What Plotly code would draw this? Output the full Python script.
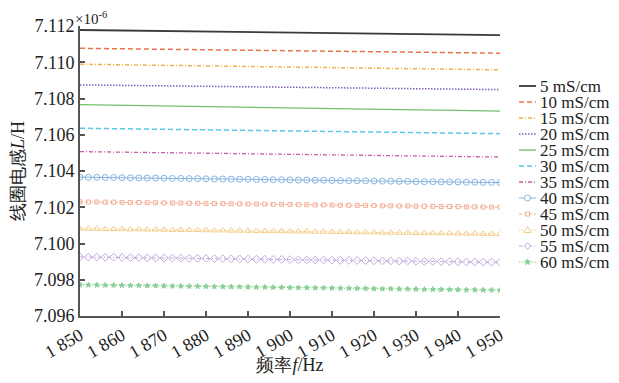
import math
import plotly.graph_objects as go

# ---- data (inductance in units of 1e-6 H) ----
freq_coarse = [1850, 1860, 1870, 1880, 1890, 1900, 1910, 1920, 1930, 1940, 1950]
freq_fine = [1850, 1852, 1854, 1856, 1858, 1860, 1862, 1864, 1866, 1868, 1870,
             1872, 1874, 1876, 1878, 1880, 1882, 1884, 1886, 1888, 1890,
             1892, 1894, 1896, 1898, 1900, 1902, 1904, 1906, 1908, 1910,
             1912, 1914, 1916, 1918, 1920, 1922, 1924, 1926, 1928, 1930,
             1932, 1934, 1936, 1938, 1940, 1942, 1944, 1946, 1948, 1950]

L_5 = [7.11178, 7.11175, 7.11172, 7.11170, 7.11167, 7.11164, 7.11161, 7.11158, 7.11156, 7.11153, 7.11150]
L_10 = [7.11077, 7.11074, 7.11072, 7.11069, 7.11066, 7.11064, 7.11061, 7.11058, 7.11056, 7.11053, 7.11050]
L_15 = [7.10989, 7.10986, 7.10983, 7.10980, 7.10977, 7.10974, 7.10970, 7.10967, 7.10964, 7.10961, 7.10958]
L_20 = [7.10875, 7.10872, 7.10870, 7.10867, 7.10865, 7.10862, 7.10859, 7.10857, 7.10854, 7.10852, 7.10849]
L_25 = [7.10766, 7.10762, 7.10759, 7.10755, 7.10752, 7.10748, 7.10744, 7.10741, 7.10737, 7.10734, 7.10730]
L_30 = [7.10636, 7.10633, 7.10630, 7.10627, 7.10624, 7.10621, 7.10618, 7.10615, 7.10612, 7.10609, 7.10606]
L_35 = [7.10507, 7.10504, 7.10501, 7.10498, 7.10495, 7.10492, 7.10489, 7.10486, 7.10483, 7.10480, 7.10477]

L_40 = [7.10366, 7.10365, 7.10365, 7.10364, 7.10364, 7.10363, 7.10362, 7.10362, 7.10361, 7.10361, 7.10360,
        7.10359, 7.10359, 7.10358, 7.10358, 7.10357, 7.10356, 7.10356, 7.10355, 7.10355, 7.10354,
        7.10353, 7.10353, 7.10352, 7.10352, 7.10351, 7.10350, 7.10350, 7.10349, 7.10349, 7.10348,
        7.10347, 7.10347, 7.10346, 7.10346, 7.10345, 7.10344, 7.10344, 7.10343, 7.10343, 7.10342,
        7.10341, 7.10341, 7.10340, 7.10340, 7.10339, 7.10338, 7.10338, 7.10337, 7.10337, 7.10336]
L_45 = [7.10230, 7.10229, 7.10229, 7.10228, 7.10228, 7.10227, 7.10226, 7.10226, 7.10225, 7.10225, 7.10224,
        7.10223, 7.10223, 7.10222, 7.10222, 7.10221, 7.10220, 7.10220, 7.10219, 7.10219, 7.10218,
        7.10217, 7.10217, 7.10216, 7.10216, 7.10215, 7.10214, 7.10214, 7.10213, 7.10213, 7.10212,
        7.10211, 7.10211, 7.10210, 7.10210, 7.10209, 7.10208, 7.10208, 7.10207, 7.10207, 7.10206,
        7.10205, 7.10205, 7.10204, 7.10204, 7.10203, 7.10202, 7.10202, 7.10201, 7.10201, 7.10200]
L_50 = [7.10082, 7.10081, 7.10081, 7.10080, 7.10080, 7.10079, 7.10078, 7.10078, 7.10077, 7.10077, 7.10076,
        7.10075, 7.10075, 7.10074, 7.10074, 7.10073, 7.10072, 7.10072, 7.10071, 7.10071, 7.10070,
        7.10069, 7.10069, 7.10068, 7.10068, 7.10067, 7.10066, 7.10066, 7.10065, 7.10065, 7.10064,
        7.10063, 7.10063, 7.10062, 7.10062, 7.10061, 7.10060, 7.10060, 7.10059, 7.10059, 7.10058,
        7.10057, 7.10057, 7.10056, 7.10056, 7.10055, 7.10054, 7.10054, 7.10053, 7.10053, 7.10052]
L_55 = [7.09926, 7.09925, 7.09925, 7.09924, 7.09924, 7.09923, 7.09922, 7.09922, 7.09921, 7.09921, 7.09920,
        7.09919, 7.09919, 7.09918, 7.09918, 7.09917, 7.09916, 7.09916, 7.09915, 7.09915, 7.09914,
        7.09913, 7.09913, 7.09912, 7.09912, 7.09911, 7.09910, 7.09910, 7.09909, 7.09909, 7.09908,
        7.09907, 7.09907, 7.09906, 7.09906, 7.09905, 7.09904, 7.09904, 7.09903, 7.09903, 7.09902,
        7.09901, 7.09901, 7.09900, 7.09900, 7.09899, 7.09898, 7.09898, 7.09897, 7.09897, 7.09896]
L_60 = [7.09772, 7.09771, 7.09771, 7.09770, 7.09770, 7.09769, 7.09768, 7.09768, 7.09767, 7.09767, 7.09766,
        7.09765, 7.09765, 7.09764, 7.09764, 7.09763, 7.09762, 7.09762, 7.09761, 7.09761, 7.09760,
        7.09759, 7.09759, 7.09758, 7.09758, 7.09757, 7.09756, 7.09756, 7.09755, 7.09755, 7.09754,
        7.09753, 7.09753, 7.09752, 7.09752, 7.09751, 7.09750, 7.09750, 7.09749, 7.09749, 7.09748,
        7.09747, 7.09747, 7.09746, 7.09746, 7.09745, 7.09744, 7.09744, 7.09743, 7.09743, 7.09742]

series_names = ["5 mS/cm", "10 mS/cm", "15 mS/cm", "20 mS/cm", "25 mS/cm", "30 mS/cm",
                "35 mS/cm", "40 mS/cm", "45 mS/cm", "50 mS/cm", "55 mS/cm", "60 mS/cm"]

x_tickvals = [1850, 1860, 1870, 1880, 1890, 1900, 1910, 1920, 1930, 1940, 1950]
x_ticktext = ["1 850", "1 860", "1 870", "1 880", "1 890", "1 900",
              "1 910", "1 920", "1 930", "1 940", "1 950"]
y_tickvals = [7.096, 7.098, 7.100, 7.102, 7.104, 7.106, 7.108, 7.110, 7.112]

# ---- styles ----
line_series = [
    (L_5, "#3a3a3a", "solid", 1.8),
    (L_10, "#e8744c", "5px,3px", 1.5),
    (L_15, "#eeb24a", "4px,2px,1px,2px", 1.5),
    (L_20, "#7f5db8", "1.5px,1.5px", 1.5),
    (L_25, "#72bf6c", "solid", 1.3),
    (L_30, "#5cc6e8", "5px,3px", 1.5),
    (L_35, "#c85fa4", "4px,2px,1px,2px", 1.3),
]
marker_series = [
    (L_40, "#86b4e0", "solid", "circle-open", 6, "circle"),
    (L_45, "#f3ae94", "3px,2px", "square-open", 4, "square"),
    (L_50, "#f4cc86", "1.5px,1.5px", "triangle-up-open", 6, "triangle"),
    (L_55, "#c1aade", "4px,2px,1px,2px", "diamond-open", 6, "diamond"),
    (L_60, "#86d096", "1.5px,1.5px", "star", 4, "star"),
]

FONT = "Liberation Serif"
TXT = "#222222"

# The page body adds an 8px margin on every side; the figure is sized to fit
# inside it (no scrollbars) and hand-placed legend positions, given in window
# pixels, are shifted by that offset.
OFF = 8
W, H = 619 - 2 * OFF, 383 - 2 * OFF
ML, MT = 80 - OFF, 26 - OFF
MR = W - (500 - OFF)
MB = H - (316 - OFF)
PW, PH = W - ML - MR, H - MT - MB


def px2x(px):
    return (px - OFF - ML) / PW


def py2y(py):
    return (H - MB - (py - OFF)) / PH


fig = go.Figure()
shapes = []
annotations = []

LEG_X0, LEG_X1, LEG_TX = 519, 536, 540
LEG_Y0, LEG_DY = 86, 16


def legend_entry(i, col, dash, width, marker=None):
    yc = LEG_Y0 + LEG_DY * i
    shapes.append(dict(type="line", xref="paper", yref="paper",
                       x0=px2x(LEG_X0), x1=px2x(LEG_X1), y0=py2y(yc), y1=py2y(yc),
                       line=dict(color=col, width=width, dash=dash)))
    xm = (LEG_X0 + LEG_X1) / 2
    if marker == "circle":
        shapes.append(dict(type="circle", xref="paper", yref="paper",
                           x0=px2x(xm - 3), x1=px2x(xm + 3), y0=py2y(yc + 3), y1=py2y(yc - 3),
                           line=dict(color=col, width=1), fillcolor="white"))
    elif marker == "square":
        shapes.append(dict(type="rect", xref="paper", yref="paper",
                           x0=px2x(xm - 2), x1=px2x(xm + 2), y0=py2y(yc + 2), y1=py2y(yc - 2),
                           line=dict(color=col, width=1), fillcolor="white"))
    elif marker in ("triangle", "diamond", "star"):
        if marker == "triangle":
            pts = [(xm, yc - 3.5), (xm - 3.5, yc + 2.5), (xm + 3.5, yc + 2.5)]
        elif marker == "diamond":
            pts = [(xm, yc - 3.5), (xm + 3, yc), (xm, yc + 3.5), (xm - 3, yc)]
        else:
            pts = []
            for j in range(10):
                r = 3.0 if j % 2 == 0 else 1.3
                a = -math.pi / 2 + j * math.pi / 5
                pts.append((xm + r * math.cos(a), yc + r * math.sin(a)))
        path = "M " + " L ".join("%.5f,%.5f" % (px2x(p[0]), py2y(p[1])) for p in pts) + " Z"
        shapes.append(dict(type="path", xref="paper", yref="paper", path=path,
                           line=dict(color=col, width=1),
                           fillcolor=col if marker == "star" else "white"))
    annotations.append(dict(text=series_names[i], xref="paper", yref="paper",
                            x=px2x(LEG_TX), y=py2y(yc), xanchor="left", yanchor="middle",
                            height=16, borderpad=0, borderwidth=0,
                            showarrow=False, font=dict(size=17, family=FONT, color=TXT)))


k = 0
for vals, col, dash, w in line_series:
    fig.add_trace(go.Scatter(
        x=freq_coarse, y=vals, mode="lines", name=series_names[k],
        line=dict(color=col, dash=dash, width=w)))
    legend_entry(k, col, dash, w)
    k += 1
for vals, col, dash, sym, sz, lsym in marker_series:
    fig.add_trace(go.Scatter(
        x=freq_fine, y=vals, mode="lines+markers", name=series_names[k],
        line=dict(color=col, dash=dash, width=1),
        marker=dict(symbol=sym, size=sz, color=col, line=dict(color=col, width=1))))
    legend_entry(k, col, dash, 1, lsym)
    k += 1

annotations.append(dict(text="×10<sup>-6</sup>", xref="paper", yref="paper", x=0, y=1.0,
                        xanchor="left", yanchor="bottom", showarrow=False, yshift=-1, xshift=-5,
                        borderpad=0, borderwidth=0,
                        font=dict(size=15, family=FONT, color=TXT)))

axis_col = "#555555"
fig.update_layout(
    width=W, height=H,
    margin=dict(l=ML, r=MR, t=MT, b=MB, autoexpand=False),
    paper_bgcolor="white", plot_bgcolor="white",
    font=dict(family=FONT, size=18, color=TXT),
    showlegend=False,
    xaxis=dict(range=[1850, 1950], tickvals=x_tickvals, ticktext=x_ticktext, automargin=False,
               tickangle=-30, ticks="inside", ticklen=5, tickwidth=1.5, tickcolor=axis_col,
               showline=True, linecolor=axis_col, linewidth=2, showgrid=False, zeroline=False,
               tickfont=dict(size=18),
               title=dict(text="频率<i>f</i>/Hz", font=dict(size=18), standoff=4)),
    yaxis=dict(range=[7.096, 7.112], tickvals=y_tickvals, tickformat=".3f", automargin=False,
               ticks="inside", ticklen=5, tickwidth=1.5, tickcolor=axis_col,
               showline=True, linecolor=axis_col, linewidth=2, showgrid=False, zeroline=False,
               tickfont=dict(size=18),
               title=dict(text="线圈电感<i>L</i>/H", font=dict(size=18), standoff=14)),
    shapes=shapes,
    annotations=annotations,
)

fig.write_html("out.html")
